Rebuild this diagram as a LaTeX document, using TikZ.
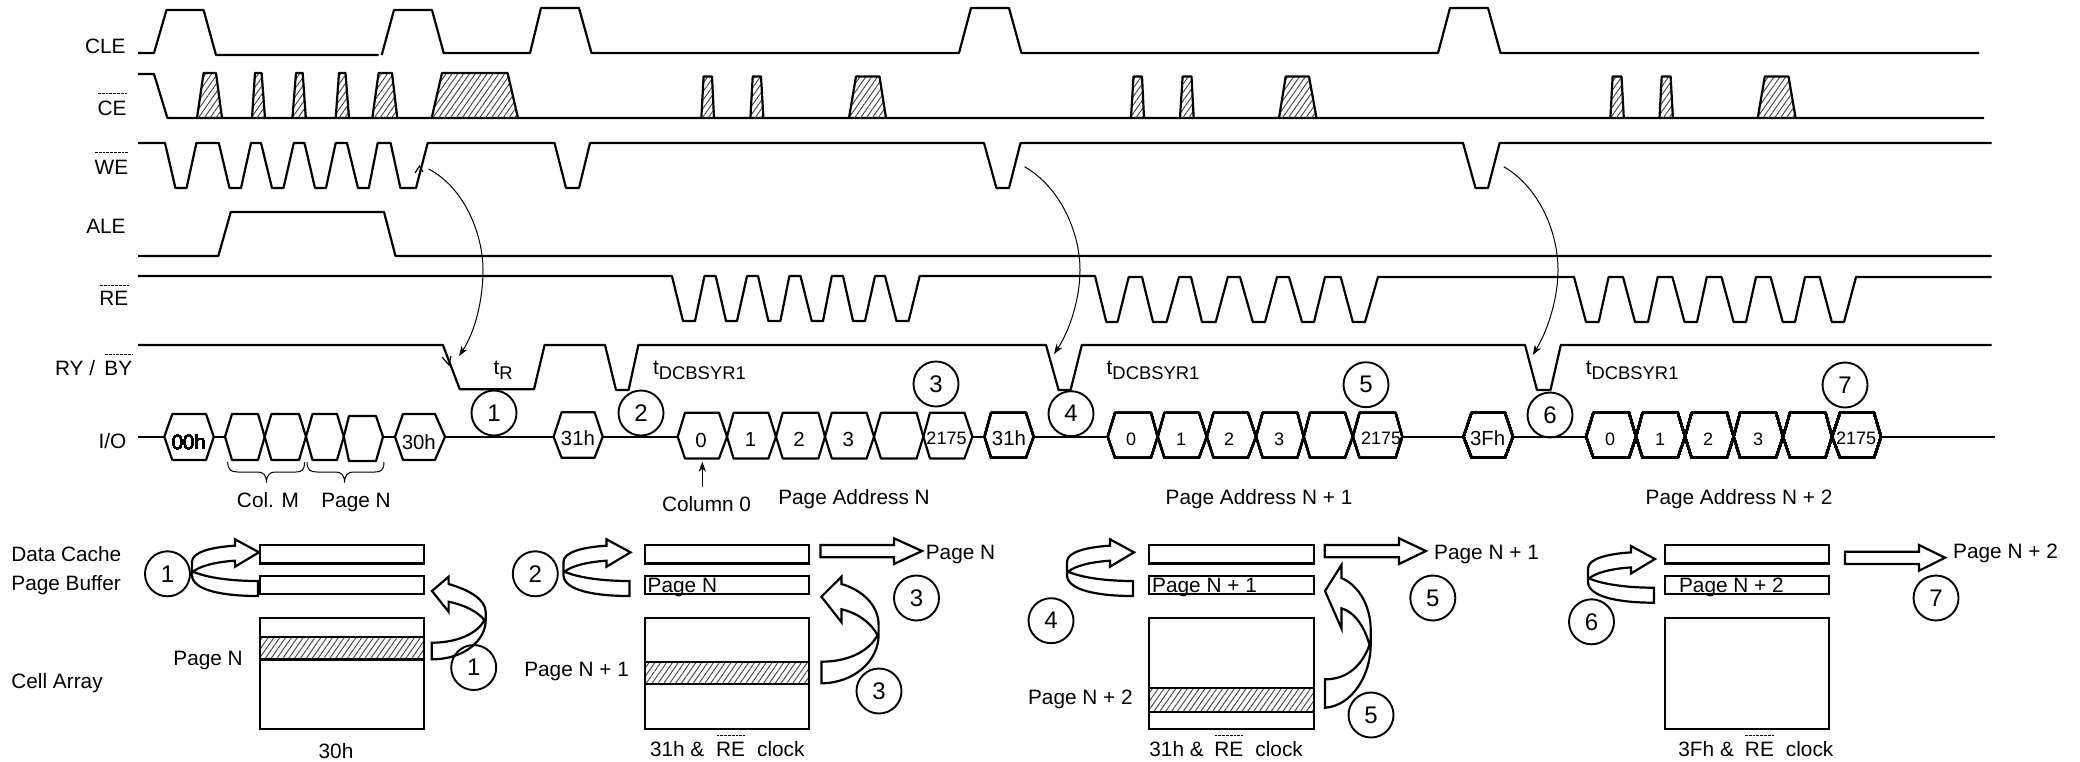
\documentclass[tikz,border=0pt]{standalone}
\usepackage{fontspec}
\setmainfont{Liberation Sans}
\usetikzlibrary{patterns.meta,arrows.meta}
\tikzset{
  wave/.style={line width=1.1pt,line join=round},
  hatchfill/.style={pattern={Lines[angle=55,distance=2.4pt,line width=.45pt]},pattern color=black!75},
  hatched/.style={wave,hatchfill},
  bx/.style={line width=1.2pt},
  curve/.style={line width=.5pt},
  barb/.style={line width=.6pt},
  blockarrow/.style={line width=1.1pt,line join=miter},
  bubble/.style={circle,draw,line width=.95pt,minimum size=22.5pt,inner sep=0pt,font=\fontsize{12}{12}\selectfont},
  sig/.style={anchor=east,inner sep=0pt,font=\fontsize{10.4}{12}\selectfont},
  lab/.style={inner sep=0pt,font=\fontsize{10.4}{12}\selectfont},
  labl/.style={lab,anchor=west},
  hexa/.style={inner sep=0pt,font=\fontsize{10.2}{12}\selectfont},
  hexb/.style={inner sep=0pt,font=\fontsize{9}{11}\selectfont},
  obar/.style={line width=.45pt,dash pattern=on 1.4pt off .5pt},
}
\newcommand{\tsub}[1]{\fontsize{10.4}{12}\selectfont t\raisebox{-.24em}{\fontsize{9.2}{11}\selectfont #1}}
% \hexcell{x1}{x2}{x3}{x4}{top}{bot}{mid}
\newcommand{\hexcell}[7]{\draw[wave] (#1,#7)--(#2,#5)--(#3,#5)--(#4,#7)--(#3,#6)--(#2,#6)--cycle;}
\newcommand{\uturn}[2]{\draw[blockarrow,shift={(#1*0.5pt,#2*-0.5pt)}]
  (258,596) .. controls (222,596) and (192,590) .. (192,575)
  -- (192,561.7) .. controls (192,552) and (212,547) .. (235,545.7)
  -- (235,539.3) -- (259,552.3) -- (235,566.7) -- (235,560.7)
  .. controls (215,562) and (200,566) .. (193,571.7)
  .. controls (208,578) and (232,581) .. (258,581) -- cycle;}
\begin{document}
\begin{tikzpicture}[x=0.5pt,y=-0.5pt]
\useasboundingbox (0,0) rectangle (2080,761);
% --- CLE
\draw[wave] (138,53)--(154,53)--(166.5,10)--(203.6,10)--(216,55)--(378.6,55);
\draw[wave] (381.7,55)--(394,10)--(432,10)--(443.7,53)--(530,53)--(541,8)--(579,8)--(591.5,53)--(959,53)--(971,8)--(1009,8)--(1021.4,53)--(1438,53)--(1450,8)--(1488,8)--(1500.5,53)--(1979,53);
% --- CE
\draw[wave] (138,74)--(154,74)--(167.4,118)--(1984,118);
\foreach \a/\b/\c/\d in {197/203.6/216/222,252/255/261.6/265,292.4/296/302.7/305.8,335.7/339/345.5/349,372.3/378.6/392/397.3,431.7/442/507.6/518}
  \draw[hatched] (\a,118)--(\b,73)--(\c,73)--(\d,118);
\foreach \a/\b/\c/\d in {701.3/703.6/712/714,750.4/752.7/761/763.4,849/856/879.5/886,1131/1133.5/1142/1144,1180/1182.6/1191.5/1193.7,1279/1285.7/1309/1316.5,1610.4/1612.6/1621.5/1623.8,1659.5/1661.7/1670.6/1672.9,1757.7/1764.8/1788.5/1795.6}
  \draw[hatched] (\a,118)--(\b,76.5)--(\c,76.5)--(\d,118);
% --- WE
\draw[wave] (138,143)--(165,143)--(175.4,188)--(186.6,188)--(196.4,143)--(218.8,143)--(229.5,188)--(241,188)--(251,143)--(261,143)--(272,188)--(283.5,188)--(293.8,143)--(304.5,143)--(315,188)--(326,188)--(335.7,143)--(347,143)--(358,188)--(368.8,188)--(377.7,143)--(390.6,143)--(400.4,188)--(416,188)--(427.7,143)--(554.5,143)--(566,188)--(579,188)--(590,143)--(984,143)--(996.4,188)--(1009,188)--(1020.5,143)--(1463,143)--(1475.5,188)--(1488,188)--(1499.6,143)--(1991.6,143);
% --- ALE
\draw[wave] (138,256)--(218.3,256)--(230.8,212)--(384,212)--(395.5,256)--(1991.6,256);
% --- RE
\draw[wave] (138,276)--(671.9,276)--(683,321)--(695,321)--(704.5,276)--(715.7,276)--(726,321)--(737,321)--(747,276)--(758,276)--(768.4,321)--(780.4,321)--(789.4,276)--(800.5,276)--(811.7,321)--(823,321)--(831.8,276)--(843,276)--(853,321)--(865,321)--(875,276)--(885,276)--(896.5,321)--(908.6,321)--(919.7,276)--(1095,276)--(1106.3,322)--(1117.5,322)--(1128.7,277)--(1142,277)--(1153,322)--(1166.6,322)--(1179,277)--(1191,277)--(1202,322)--(1215.7,322)--(1227.8,277)--(1240,277)--(1252.8,322)--(1265,322)--(1277,277)--(1289,277)--(1302,322)--(1314,322)--(1325,277)--(1340.7,277)--(1352.8,322)--(1365,322)--(1378,277)--(1574,277)--(1586,322)--(1598.7,322)--(1608.6,277)--(1623,277)--(1635,322)--(1648,322)--(1657.7,277)--(1672.4,277)--(1684.5,322)--(1697,322)--(1706.8,277)--(1721.5,277)--(1733.6,322)--(1746,322)--(1756,277)--(1770.6,277)--(1782.7,322)--(1795,322)--(1805,277)--(1819.7,277)--(1831.8,322)--(1844,322)--(1856,277)--(1991.6,277);
% --- RY/BY
\draw[wave] (138,345)--(442.9,345)--(459.8,389.3)--(534,389.3)--(544.6,345)--(605,345)--(616,390)--(628.6,390)--(638.4,345)--(1046,345)--(1058.6,390)--(1070.6,390)--(1081.8,345)--(1525,345)--(1537,390)--(1550.5,390)--(1560.8,345)--(1991.6,345);
% --- I/O lines
\draw[wave] (138,436.7)--(164.3,436.7) (213.8,436.7)--(225,436.7) (383,436.7)--(395,436.7) (445,436.7)--(553.6,436.7) (602.7,436.7)--(677.7,436.7) (972.4,436.7)--(984.5,436.7) (1033.6,436.7)--(1107.7,436.7) (1402.3,436.7)--(1463.5,436.7) (1513,436.7)--(1586,436.7) (1881,436.7)--(1995,436.7);
\hexcell{164.3}{172.3}{206}{213.8}{414}{460}{436.7}
\hexcell{225}{232}{258}{264.7}{414}{460}{436.7}
\hexcell{264.7}{271.4}{299}{306}{414}{460}{436.7}
\hexcell{306}{312.5}{337}{343.8}{414}{460}{436.7}
\hexcell{343.8}{349}{376}{383}{416}{461}{436.7}
\hexcell{395}{403}{435}{445}{414}{460}{436.7}
\hexcell{553.6}{561.6}{594.6}{602.7}{412.3}{457.7}{436.7}
\foreach \a/\b/\c/\d in {677.7/685/719/727,727/733.6/768.4/776,776/782.7/818.4/825,825/831.8/866.6/874,874/881/916.6/923.3,923.3/930/964.4/972.4}
  \hexcell{\a}{\b}{\c}{\d}{412.7}{458.5}{436.7}
\hexcell{984.5}{991}{1026}{1033.6}{412.7}{457.7}{436.7}
\foreach \a/\b/\c/\d in {1107.7/1115/1151/1157.7,1157.7/1164.4/1199/1206.8,1206.8/1213.5/1248/1256,1256/1262.6/1297.4/1303.7,1303.7/1310/1345/1352.8,1352.8/1359.5/1395.6/1402.3}
  \hexcell{\a}{\b}{\c}{\d}{412.7}{457.7}{436.7}
\hexcell{1463.5}{1471.5}{1505}{1513}{412.7}{457.7}{436.7}
\foreach \a/\b/\c/\d in {1586/1593.4/1629/1636,1636/1642.5/1677.8/1685,1685/1691.6/1727/1733.6,1733.6/1740/1776/1783,1783/1790/1825.5/1832,1832/1840/1874/1881}
  \hexcell{\a}{\b}{\c}{\d}{412.7}{457.7}{436.7}
% hex labels
\node[hexa] (h00) at (188.8,442) {00h};
\node[hexa] (h30) at (418.8,442) {30h};
\node[hexa] (h31a) at (578,438.5) {31h};
\node[hexa] (p0a) at (701,440) {0};
\node[hexa] (p1a) at (750.5,439) {1};
\node[hexa] (p2a) at (799,439) {2};
\node[hexa] (p3a) at (848.3,439) {3};
\node[hexb] (p4a) at (946.5,438) {2175};
\node[hexa] (h31b) at (1009,438.5) {31h};
\node[hexb] (p0b) at (1131,439) {0};
\node[hexb] (p1b) at (1181,439) {1};
\node[hexb] (p2b) at (1229,439) {2};
\node[hexb] (p3b) at (1279,439) {3};
\node[hexb] (p4b) at (1381,438) {2175};
\node[hexa] (h3f) at (1487.6,438.5) {3Fh};
\node[hexb] (p0c) at (1610,439) {0};
\node[hexb] (p1c) at (1660,439) {1};
\node[hexb] (p2c) at (1708,439) {2};
\node[hexb] (p3c) at (1758,439) {3};
\node[hexb] (p4c) at (1856,438) {2175};
% signal names
\node[sig] (cle) at (126,46) {CLE};
\node[sig] (ce) at (127,108) {CE};
\node[sig] (we) at (128.6,167.5) {WE};
\node[sig] (ale) at (126,226) {ALE};
\node[sig] (re) at (128.6,298) {RE};
\node[sig] (ry) at (132.6,368) {RY /\hspace{.45em}BY};
\node[sig] (io) at (126.8,440.6) {I/O};
\draw[obar] (98,93)--(127,93);
\draw[obar] (95,152)--(128.6,152);
\draw[obar] (100,285)--(128.6,285);
\draw[obar] (105,354)--(132.6,354);
% curved arrows
\coordinate (a1s) at (428.6,169);
\coordinate (a1e) at (459,356);
\coordinate (a2s) at (1024.5,166.7);
\coordinate (a2e) at (1054,354);
\coordinate (a3s) at (1503.7,166.7);
\coordinate (a3e) at (1532.7,355);
\draw[curve,-{Stealth[length=5pt,width=3.6pt,inset=1.5pt]}] (a1s) .. controls (465,188) and (483,235) .. (483,270) .. controls (483,300) and (475,332) .. (a1e);
\draw[curve,-{Stealth[length=5pt,width=3.6pt,inset=1.5pt]}] (a2s) .. controls (1060,187) and (1080,232) .. (1080,270) .. controls (1080,298) and (1070,330) .. (a2e);
\draw[curve,-{Stealth[length=5pt,width=3.6pt,inset=1.5pt]}] (a3s) .. controls (1539,187) and (1558,232) .. (1558,270) .. controls (1558,298) and (1548,330) .. (a3e);
\draw[barb] (415,173)--(419.5,166)--(423,172);
\draw[barb] (442,357)--(449,365)--(451,356);
% bubbles (timing)
\node[bubble] (t1) at (494,413) {1};
\node[bubble] (t2) at (641,413) {2};
\node[bubble] (t3) at (936,384) {3};
\node[bubble] (t4) at (1071,413.7) {4};
\node[bubble] (t5) at (1366,384.7) {5};
\node[bubble] (t6) at (1550,415) {6};
\node[bubble] (t7) at (1845,385) {7};
% timing labels
\node[labl] (tr) at (493.3,370) {\tsub{R}};
\node[labl] (td1) at (652.7,370.2) {\tsub{DCBSYR1}};
\node[labl] (td2) at (1106.3,370.2) {\tsub{DCBSYR1}};
\node[labl] (td3) at (1585.4,370.2) {\tsub{DCBSYR1}};
% braces
\draw[curve] (227.7,462) .. controls (228,470) and (231,472) .. (238,472) -- (258,472) .. controls (263,472) and (266.5,475) .. (266.5,482.7) .. controls (266.5,475) and (270,472) .. (275,472) -- (296,472) .. controls (302,472) and (304.5,470) .. (304.5,462);
\draw[curve] (307,462) .. controls (307.3,470) and (310,472) .. (317,472) -- (336,472) .. controls (341,472) and (344.6,475) .. (344.6,482.7) .. controls (344.6,475) and (348,472) .. (353,472) -- (375,472) .. controls (381,472) and (384,470) .. (384,462);
\node[lab] (colm) at (268,500) {Col. M};
\node[lab] (pgn) at (356,502) {Page N};
\node[lab] (col0) at (706.5,504.5) {Column 0};
\coordinate (col0tip) at (702.3,461.7);
\draw[curve,-{Stealth[length=5pt,width=3.6pt,inset=1.5pt]}] (702.3,486.7)--(col0tip);
\node[lab] (pan) at (854,499) {Page Address N};
\node[lab] (pan1) at (1259,499) {Page Address N + 1};
\node[lab] (pan2) at (1739,499) {Page Address N + 2};
% left names
\node[labl] (dc) at (11,554) {Data Cache};
\node[labl] (pb) at (11,585.5) {Page Buffer};
\node[labl] (ca) at (11,683.5) {Cell Array};
% hatch bands and boxes
\foreach \xa/\xb/\ya/\yb in {260/424/636.7/659.3,645/809/661.7/684,1149/1313.8/688/711.7}{
  \fill[hatchfill] (\xa,\ya) rectangle (\xb,\yb);
  \draw[bx] (\xa,\ya) rectangle (\xb,\yb);
}
\foreach \xa/\xb in {260/424,645/809,1149/1313.8,1664.8/1829}{
  \draw[bx] (\xa,545) rectangle (\xb,563.3);
  \draw[bx] (\xa,576) rectangle (\xb,594);
  \draw[bx] (\xa,617.7) rectangle (\xb,729);
}
% panel bubbles
\node[bubble] (b1) at (167.5,573.8) {1};
\node[bubble] (b1r) at (473.7,667.5) {1};
\node[bubble] (b2) at (535.3,573.8) {2};
\node[bubble] (b3a) at (916.5,598) {3};
\node[bubble] (b3b) at (879,691) {3};
\node[bubble] (b4) at (1051,620.7) {4};
\node[bubble] (b5a) at (1432.8,598) {5};
\node[bubble] (b5b) at (1371,715) {5};
\node[bubble] (b6) at (1591.5,621.8) {6};
\node[bubble] (b7) at (1936,598) {7};
% U-turn arrows
\uturn{0}{0}
\uturn{371.5}{0}
\uturn{875}{0}
\uturn{1396}{6.7}
% curved up arrows
\draw[blockarrow] (431.7,659.3) .. controls (465,659.3) and (485.7,640) .. (485.7,620)
  -- (485.7,612) .. controls (485.7,600) and (470,590) .. (448.6,584)
  -- (448.6,576.7) -- (432,591) -- (448.6,611.7) -- (448.6,601.7)
  .. controls (465,605) and (478,612) .. (484.4,620)
  .. controls (478,633) and (458,642.7) .. (431.7,642.7) -- cycle;
\draw[blockarrow] (821.4,683.3) .. controls (855,683) and (878.6,660) .. (878.6,635)
  -- (878.6,625) .. controls (878.6,605) and (862,590) .. (841.5,584)
  -- (841.5,576.7) -- (821.4,596.7) -- (841.5,622.3) -- (841.5,609.3)
  .. controls (858,613) and (871,623) .. (877.5,635)
  .. controls (870,650) and (850,661.7) .. (821.4,661.7) -- cycle;
\draw[blockarrow] (1325,707.7) .. controls (1352,706) and (1370.7,675) .. (1370.7,645)
  -- (1370.7,630) .. controls (1370.7,605) and (1358,585) .. (1341.4,578)
  -- (1341.4,565) -- (1325,591) -- (1341.4,628.3) -- (1341.4,608.3)
  .. controls (1355,612) and (1365,628) .. (1369.5,645)
  .. controls (1362,665) and (1348,679.3) .. (1325,679.3) -- cycle;
% straight block arrows
\draw[blockarrow] (820.5,545)--(894,545)--(894,538.3)--(922,551)--(894,564)--(894,557.3)--(820.5,557.3)--cycle;
\draw[blockarrow] (1324.8,545)--(1399,545)--(1399,538.3)--(1425.9,551)--(1399,564)--(1399,557.3)--(1324.8,557.3)--cycle;
\draw[blockarrow] (1845,551.7)--(1919,551.7)--(1919,545)--(1945,557.7)--(1919,570.7)--(1919,564)--(1845,564)--cycle;
% panel labels
\node[labl] (pn1) at (173,660.5) {Page N};
\node[lab] (pn2) at (576.6,671.5) {Page N + 1};
\node[lab] (pn3) at (1080.4,699.5) {Page N + 2};
\node[labl] (out1) at (925.4,554.3) {Page N};
\node[lab] (out2) at (1486.5,554.5) {Page N + 1};
\node[lab] (out3) at (2005.5,553) {Page N + 2};
\node[labl] (in1) at (647.3,587) {Page N};
\node[lab] (in2) at (1204.5,587) {Page N + 1};
\node[lab] (in3) at (1731.4,587) {Page N + 2};
% bottom captions
\node[lab] (c1) at (336,751.5) {30h};
\node[labl] (c2a) at (649.6,749.5) {31h \&};
\node[lab] (c2b) at (730.5,749.5) {RE};
\node[labl] (c2c) at (756.7,749.5) {clock};
\node[labl] (c3a) at (1149,749.5) {31h \&};
\node[lab] (c3b) at (1228.8,749.5) {RE};
\node[labl] (c3c) at (1255,749.5) {clock};
\node[labl] (c4a) at (1678,749.5) {3Fh \&};
\node[lab] (c4b) at (1759.4,749.5) {RE};
\node[labl] (c4c) at (1785.5,749.5) {clock};
\draw[obar] (716.5,735)--(744.6,735);
\draw[obar] (1214.5,735)--(1243,735);
\draw[obar] (1745,735)--(1773.8,735);
\end{tikzpicture}
\end{document}
